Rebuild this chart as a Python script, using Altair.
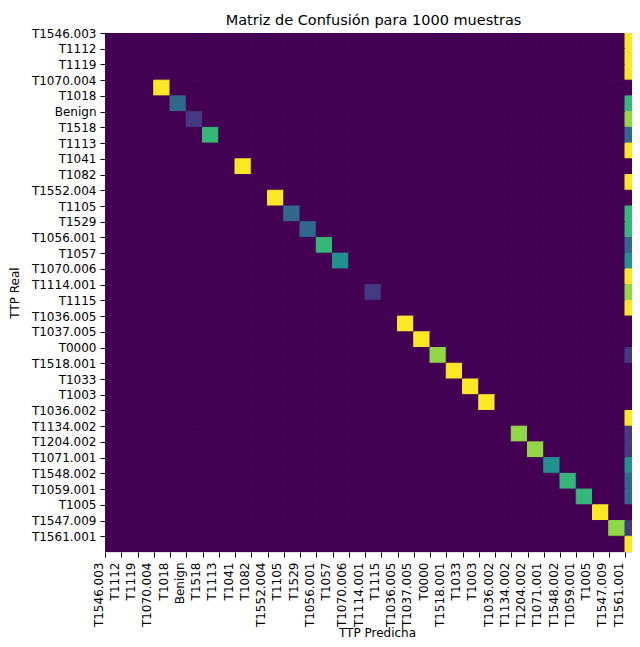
import altair as alt
import pandas as pd

labels = ["T1546.003", "T1112", "T1119", "T1070.004", "T1018", "Benign", "T1518",
          "T1113", "T1041", "T1082", "T1552.004", "T1105", "T1529", "T1056.001",
          "T1057", "T1070.006", "T1114.001", "T1115", "T1036.005", "T1037.005",
          "T0000", "T1518.001", "T1033", "T1003", "T1036.002", "T1134.002",
          "T1204.002", "T1071.001", "T1548.002", "T1059.001", "T1005", "T1547.009",
          "T1561.001"]

# counts on the diagonal (correct predictions), one per real class
diag_counts = [0, 0, 0, 30, 10, 5, 20, 0, 30, 0, 30, 10, 10, 20, 15, 0, 5, 0,
               30, 30, 25, 30, 30, 30, 0, 25, 25, 15, 20, 20, 30, 25, 30]
# counts predicted as the last column class, one per real class
last_col_counts = [30, 30, 30, 0, 20, 25, 10, 30, 0, 30, 0, 20, 20, 10, 15, 30, 25, 30,
                   0, 0, 5, 0, 0, 0, 30, 5, 5, 15, 10, 10, 0, 5, 30]

n = len(labels)
records = []
for i in range(n):
    for j in range(n):
        if i == j:
            v = diag_counts[i]
        elif j == n - 1:
            v = last_col_counts[i]
        else:
            v = 0
        records.append({"real": labels[i], "pred": labels[j],
                        "x0": j, "x1": j + 1, "y0": i, "y1": i + 1, "count": v})
df = pd.DataFrame(records)

lab_arr = "[" + ",".join("'%s'" % l for l in labels) + "]"
label_expr = lab_arr + "[datum.value]"

font = "DejaVu Sans"
cscale = alt.Scale(scheme="viridis", domain=[0, 30])

chart = alt.Chart(df).mark_rect(clip=True, strokeWidth=1).encode(
    x=alt.X("x0:Q",
            scale=alt.Scale(domain=[0, 32.43], nice=False, zero=False),
            axis=alt.Axis(values=list(range(n)), labelExpr=label_expr,
                          labelAngle=-90, labelAlign="right", labelBaseline="bottom",
                          labelOverlap=False, labelFlush=False, labelBound=False,
                          grid=False, domain=False, tickSize=5, tickColor="black",
                          tickWidth=1, labelPadding=5, labelFontSize=12,
                          labelFont=font, labelColor="black",
                          title="TTP Predicha", titleFont=font, titleFontSize=12,
                          titleFontWeight="normal", titleColor="black",
                          titleBaseline="alphabetic", titleX=272, titleY=84)),
    x2="x1:Q",
    y=alt.Y("y0:Q",
            scale=alt.Scale(domain=[0, 33], reverse=True, nice=False, zero=False),
            axis=alt.Axis(values=list(range(n)), labelExpr=label_expr,
                          labelAlign="right", labelBaseline="middle",
                          labelOverlap=False, labelFlush=False, labelBound=False,
                          grid=False, domain=False, tickSize=5, tickColor="black",
                          tickWidth=1, labelPadding=4, labelFontSize=12,
                          labelFont=font, labelColor="black",
                          title="TTP Real", titleFont=font, titleFontSize=12,
                          titleFontWeight="normal", titleColor="black",
                          titlePadding=10)),
    y2="y1:Q",
    color=alt.Color("count:Q", scale=cscale, legend=None),
    stroke=alt.Stroke("count:Q", scale=cscale, legend=None),
).properties(
    width=527,
    height=519,
    padding={"left": 97, "top": 25, "right": 0, "bottom": 87},
    autosize=alt.AutoSizeParams(type="none"),
    title=alt.TitleParams("Matriz de Confusión para 1000 muestras", font=font,
                          fontSize=14.5, fontWeight="normal", color="black",
                          offset=3, dx=5, dy=4),
).configure_view(stroke=None, fill="#440154").configure_axis(
    grid=False
).configure(background="white")

chart.save("out.html", embed_options={"renderer": "svg", "actions": False})
